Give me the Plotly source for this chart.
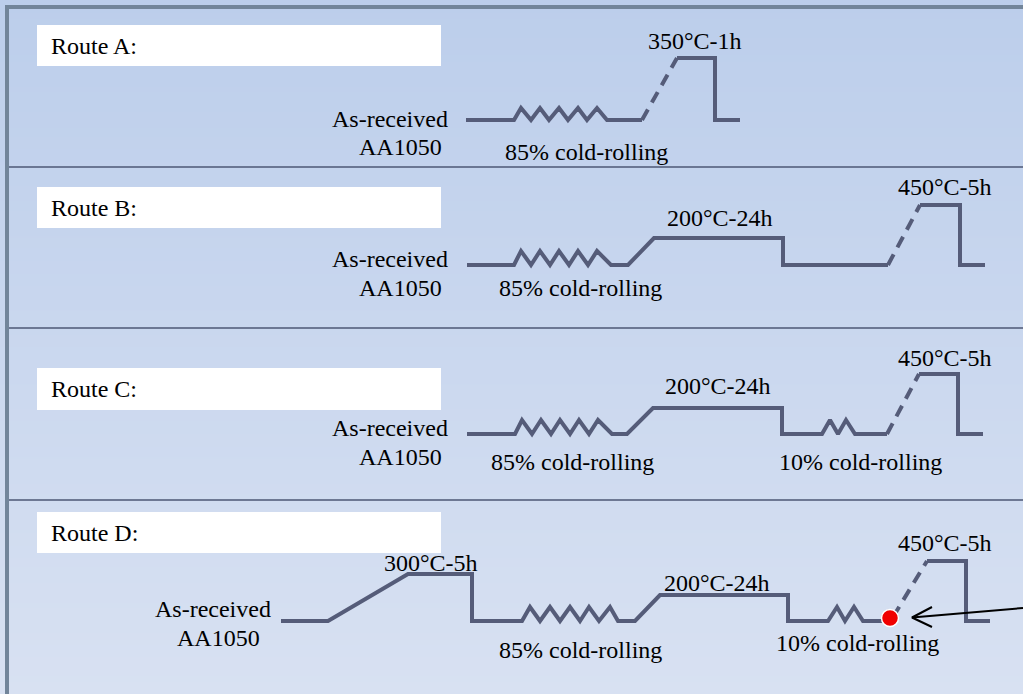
"""Processing routes A-D for AA1050: schematic of rolling / annealing steps."""

import plotly.graph_objects as go

# --- path vertices for each route (canvas pixels, y grows downward) ---
# solid part before the dashed heating ramp
route_a_x = [466, 514, 521, 531, 540, 549, 559, 568, 578, 587, 597, 607, 642]
route_a_y = [120, 120, 108, 120, 108, 120, 108, 120, 108, 120, 108, 120, 120]
route_a_dash_x = [642, 677]
route_a_dash_y = [120, 58]
route_a_end_x = [677, 715, 715, 740]
route_a_end_y = [58, 58, 120, 120]

route_b_x = [467, 514, 521, 531, 540, 550, 559, 569, 578, 588, 597, 611, 628, 654, 783, 783, 888]
route_b_y = [265, 265, 251, 265, 251, 265, 251, 265, 251, 265, 251, 265, 265, 238, 238, 265, 265]
route_b_dash_x = [888, 920]
route_b_dash_y = [265, 205]
route_b_end_x = [920, 960, 960, 985]
route_b_end_y = [205, 205, 265, 265]

route_c_x = [467, 515, 522, 532, 541, 551, 560, 570, 579, 589, 598, 612, 627, 653, 782, 782,
             822, 830, 838, 846, 855, 887]
route_c_y = [434, 434, 420, 434, 420, 434, 420, 434, 420, 434, 420, 434, 434, 408, 408, 434,
             434, 420, 434, 420, 434, 434]
route_c_dash_x = [887, 919]
route_c_dash_y = [434, 374]
route_c_end_x = [919, 958, 958, 983]
route_c_end_y = [374, 374, 434, 434]

route_d_x = [281, 328, 408, 472, 472, 522, 530, 540, 550, 560, 570, 580, 589, 599, 610, 618,
             635, 660, 788, 788, 828, 837, 845, 854, 863, 890]
route_d_y = [621, 621, 574, 574, 621, 621, 607, 621, 607, 621, 607, 621, 607, 621, 607, 621,
             621, 595, 595, 621, 621, 607, 621, 607, 621, 621]
route_d_dash_x = [893, 927]
route_d_dash_y = [617, 561]
route_d_end_x = [927, 966, 966, 990]
route_d_end_y = [561, 561, 621, 621]

marker_x = [890]
marker_y = [618]

arrow_x = [1023, 912]
arrow_y = [608, 617.5]
arrow_head_x = [932, 912, 932]
arrow_head_y = [607, 617.5, 627]

# route header boxes and labels
route_names = ["Route A:", "Route B:", "Route C:", "Route D:"]
box_top = [25, 187, 368, 512]
box_bottom = [66, 228, 410, 553]
separators_y = [167, 328, 500]

# step labels: text, x, y, anchor
labels = [
    ("As-received", 450, 119, "right"), ("AA1050", 400, 147, "center"),
    ("85% cold-rolling", 586, 152, "center"), ("350\u00b0C-1h", 695, 41, "center"),

    ("As-received", 450, 259, "right"), ("AA1050", 400, 288, "center"),
    ("85% cold-rolling", 580, 288, "center"), ("200\u00b0C-24h", 720, 218, "center"),
    ("450\u00b0C-5h", 945, 187, "center"),

    ("As-received", 450, 428, "right"), ("AA1050", 400, 457, "center"),
    ("85% cold-rolling", 572, 462, "center"), ("200\u00b0C-24h", 718, 386, "center"),
    ("450\u00b0C-5h", 945, 358, "center"), ("10% cold-rolling", 860, 462, "center"),

    ("As-received", 273, 609, "right"), ("AA1050", 218, 638, "center"),
    ("300\u00b0C-5h", 431, 563, "center"), ("85% cold-rolling", 580, 650, "center"),
    ("200\u00b0C-24h", 717, 583, "center"), ("450\u00b0C-5h", 945, 543, "center"),
    ("10% cold-rolling", 857, 643, "center"),
]

W, H = 1023, 694
LINE = "#555C79"
FONT = "Liberation Serif, Times New Roman, serif"

fig = go.Figure()

# soft vertical gradient background
fig.add_trace(go.Heatmap(
    x=[0, W], y=[0, H], z=[[0, 0], [1, 1]],
    colorscale=[[0, "#BCCEEB"], [1, "#D8E1F2"]],
    zsmooth="best", showscale=False, hoverinfo="skip",
))

solid = [
    (route_a_x, route_a_y), (route_a_end_x, route_a_end_y),
    (route_b_x, route_b_y), (route_b_end_x, route_b_end_y),
    (route_c_x, route_c_y), (route_c_end_x, route_c_end_y),
    (route_d_x, route_d_y), (route_d_end_x, route_d_end_y),
]
for xs, ys in solid:
    fig.add_trace(go.Scatter(x=xs, y=ys, mode="lines", hoverinfo="skip",
                             line=dict(color=LINE, width=4)))

dashed = [
    (route_a_dash_x, route_a_dash_y), (route_b_dash_x, route_b_dash_y),
    (route_c_dash_x, route_c_dash_y), (route_d_dash_x, route_d_dash_y),
]
for xs, ys in dashed:
    fig.add_trace(go.Scatter(x=xs, y=ys, mode="lines", hoverinfo="skip",
                             line=dict(color=LINE, width=4, dash="12px,8px")))

# arrow pointing at the red dot
fig.add_trace(go.Scatter(x=arrow_x, y=arrow_y, mode="lines", hoverinfo="skip",
                         line=dict(color="black", width=2)))
fig.add_trace(go.Scatter(x=arrow_head_x, y=arrow_head_y, mode="lines", hoverinfo="skip",
                         line=dict(color="black", width=2)))
fig.add_trace(go.Scatter(x=marker_x, y=marker_y, mode="markers", hoverinfo="skip",
                         marker=dict(color="#F00000", size=17,
                                     line=dict(color="white", width=1.5))))

shapes = []
# outer frame (top and left edges)
shapes.append(dict(type="line", x0=7, x1=W + 5, y0=7, y1=7,
                   line=dict(color="#72859A", width=4)))
shapes.append(dict(type="line", x0=7, x1=7, y0=5, y1=H + 5,
                   line=dict(color="#72859A", width=4)))
for y in separators_y:
    shapes.append(dict(type="line", x0=9, x1=W, y0=y, y1=y,
                       line=dict(color="#4C5774", width=1.5)))
for y0, y1 in zip(box_top, box_bottom):
    shapes.append(dict(type="rect", x0=37, x1=441, y0=y0, y1=y1,
                       fillcolor="white", line=dict(width=0)))

annotations = []
for name, y0, y1 in zip(route_names, box_top, box_bottom):
    annotations.append(dict(x=49, y=(y0 + y1) / 2, text=name, showarrow=False,
                            xanchor="left", yanchor="middle",
                            font=dict(family=FONT, size=24, color="black")))
for text, x, y, anchor in labels:
    annotations.append(dict(x=x, y=y, text=text, showarrow=False,
                            xanchor=anchor, yanchor="middle",
                            font=dict(family=FONT, size=24, color="black")))

fig.update_layout(
    width=W, height=H,
    margin=dict(l=0, r=0, t=0, b=0),
    paper_bgcolor="#C9D7EF",
    plot_bgcolor="#C9D7EF",
    showlegend=False,
    shapes=shapes,
    annotations=annotations,
    xaxis=dict(range=[0, W], visible=False, fixedrange=True),
    yaxis=dict(range=[H, 0], visible=False, fixedrange=True),
)

fig.write_html("out.html", config={"displayModeBar": False},
               post_script="document.body.style.margin = '0';")
